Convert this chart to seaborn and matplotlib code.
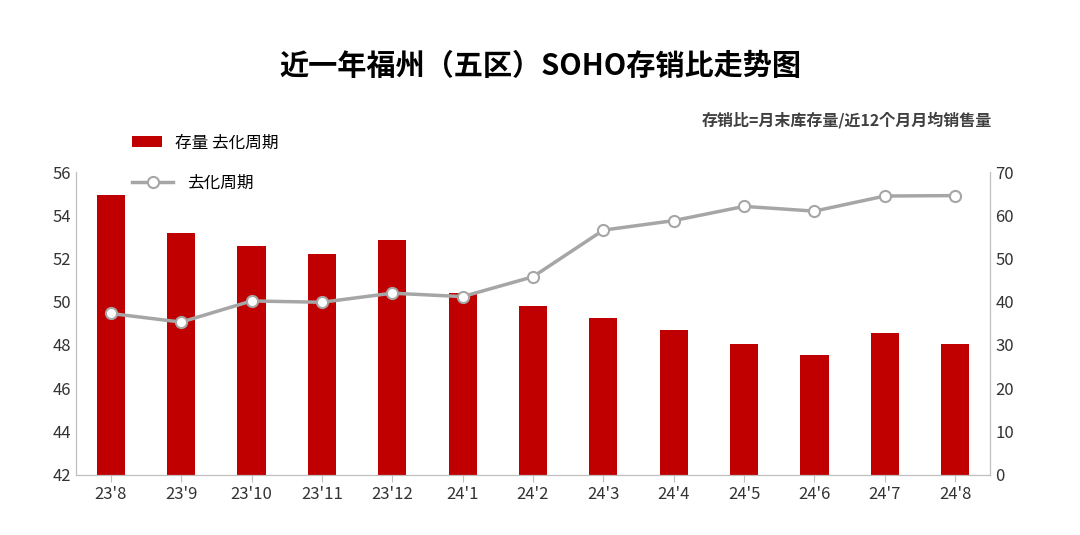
import matplotlib
matplotlib.use("Agg")
import matplotlib.pyplot as plt
from matplotlib import font_manager as fm
import seaborn as sns
import pandas as pd

names = {f.name for f in fm.fontManager.ttflist}
cjk = None
for cand in ["Noto Sans CJK SC", "Noto Sans CJK JP", "Noto Sans CJK TC", "Noto Sans CJK KR"]:
    if cand in names:
        cjk = cand
        break
if cjk is None:
    for f in fm.fontManager.ttflist:
        if "Sans" in f.name and "CJK" in f.name:
            cjk = f.name
            break
plt.rcParams["font.family"] = [cjk or "DejaVu Sans", "DejaVu Sans"]

months = ["23'8","23'9","23'10","23'11","23'12","24'1","24'2","24'3","24'4","24'5","24'6","24'7","24'8"]
stock = [54.95, 53.2, 52.6, 52.2, 52.85, 50.4, 49.8, 49.25, 48.7, 48.05, 47.55, 48.55, 48.05]
cycle = [37.3, 35.3, 40.2, 39.9, 42.0, 41.2, 45.8, 56.6, 58.8, 62.1, 61.0, 64.5, 64.6]

df = pd.DataFrame({"m": months, "stock": stock, "cycle": cycle})

fig = plt.figure(figsize=(10.8, 5.35), dpi=100)
ax = fig.add_axes([0.07, 0.113, 0.847, 0.565])
sns.barplot(data=df, x="m", y="stock", color="#C00000", saturation=1, width=0.4, ax=ax,
            label="存量 去化周期")
ax.set_ylim(42, 56)
ax.set_yticks(range(42, 57, 2))
ax.set_xlabel(""); ax.set_ylabel("")
ax2 = ax.twinx()
ax2.plot(range(len(months)), cycle, color="#A6A6A6", lw=2.5, marker="o",
         markersize=8, markerfacecolor="white", markeredgecolor="#A6A6A6",
         markeredgewidth=1.5, label="去化周期")
ax2.set_ylim(0, 70)
ax2.set_yticks(range(0, 71, 10))
ax.set_xlim(-0.5, len(months) - 0.5)
for a in (ax, ax2):
    a.tick_params(labelsize=12, colors="#333333", length=0)
    a.spines["top"].set_visible(False)
    for s in ["left", "right", "bottom"]:
        a.spines[s].set_color("#BFBFBF")
ax.tick_params(axis="x", length=5, color="#BFBFBF")

fig.text(0.5, 0.86, "近一年福州（五区）SOHO存销比走势图", ha="center", fontsize=21, fontweight="bold")
fig.text(0.918, 0.765, "存销比=月末库存量/近12个月月均销售量", ha="right", fontsize=11.5,
         fontweight="bold", color="#404040")
h1, l1 = ax.get_legend_handles_labels()
h2, l2 = ax2.get_legend_handles_labels()
ax.legend(h1, l1, loc="upper left", bbox_to_anchor=(0.045, 1.175), frameon=False, fontsize=12,
          handlelength=1.8)
ax2.legend(h2, l2, loc="upper left", bbox_to_anchor=(0.045, 1.04), frameon=False, fontsize=12,
           handlelength=2.5)
fig.savefig("out.png", dpi=100)
